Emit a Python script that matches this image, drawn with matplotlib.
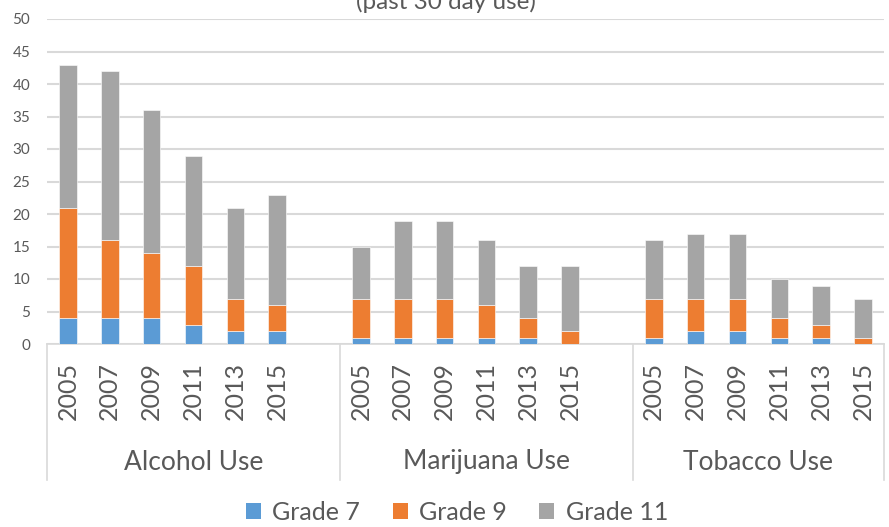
import matplotlib.pyplot as plt
from matplotlib.patches import Patch
import matplotlib.transforms as mtransforms

plt.rcParams['font.family'] = ['Lato', 'DejaVu Sans']

groups = ['Alcohol Use', 'Marijuana Use', 'Tobacco Use']
years = ['2005', '2007', '2009', '2011', '2013', '2015']

grade7 = [4, 4, 4, 3, 2, 2,   1, 1, 1, 1, 1, 0,    1, 2, 2, 1, 1, 0]
grade9 = [17, 12, 10, 9, 5, 4,   6, 6, 6, 5, 3, 2,   6, 5, 5, 3, 2, 1]
grade11 = [22, 26, 22, 17, 14, 17,   8, 12, 12, 10, 8, 10,   9, 10, 10, 6, 6, 6]

series_names = ['Grade 7', 'Grade 9', 'Grade 11']
colors = ['#5b9bd5', '#ed7d31', '#a5a5a5']
txt = '#595959'
grid = '#d9d9d9'

# blank slot between groups (7 per group, last group has 6)
x = [g * 7 + i for g in range(len(groups)) for i in range(len(years))]

fig = plt.figure(figsize=(8.89, 5.27), dpi=100)
W, H = 889, 527
ax = fig.add_axes([47 / W, 1 - 344 / H, 837 / W, 325 / H])

bottom = [0] * len(x)
for vals, c in zip([grade7, grade9, grade11], colors):
    ax.bar(x, vals, width=0.42, bottom=bottom, color=c, edgecolor='white', linewidth=0.4, zorder=3)
    bottom = [b + v for b, v in zip(bottom, vals)]

ax.set_xlim(-0.5, 19.5)
ax.set_ylim(0, 50)
ax.set_yticks(range(0, 51, 5))
ax.yaxis.grid(True, color=grid, linewidth=1.5, zorder=0)
ax.tick_params(axis='y', length=0, labelsize=11, labelcolor=txt, pad=12)
for s in ['left', 'right', 'top']:
    ax.spines[s].set_visible(False)
ax.spines['bottom'].set_color(grid)
ax.spines['bottom'].set_linewidth(1.2)

ax.set_xticks(x)
ax.set_xticklabels(years * len(groups), rotation=90, fontsize=18, color=txt)
ax.tick_params(axis='x', length=0, pad=13)

trans = mtransforms.blended_transform_factory(ax.transData, ax.transAxes)
edges = [-0.5, 6.5, 13.5, 19.5]
for g, name in enumerate(groups):
    ax.text((edges[g] + edges[g + 1]) / 2, -118 / 325, name, transform=trans, ha='center', va='center',
            fontsize=19, color=txt)
for e in edges:
    ax.plot([e, e], [0, -136 / 325], transform=trans, color=grid, linewidth=1.2, clip_on=False)

handles = [Patch(facecolor=c, label=n) for c, n in zip(colors, series_names)]
fig.legend(handles=handles, loc='center', bbox_to_anchor=(457 / W, 1 - 512 / H), ncol=3,
           frameon=False, fontsize=18, labelcolor=txt, handlelength=0.6, handleheight=0.6,
           handletextpad=0.45, columnspacing=1.3)

fig.text(446 / W, 1 - 9 / H, '(past 30 day use)', ha='center', va='baseline', fontsize=17.5, color=txt)

fig.savefig('out.png', dpi=100)
